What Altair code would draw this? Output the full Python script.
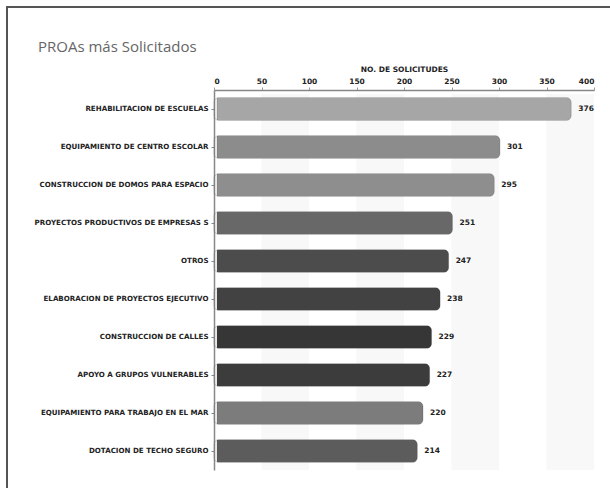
import altair as alt
import pandas as pd

categories = [
    "REHABILITACION DE ESCUELAS",
    "EQUIPAMIENTO DE CENTRO ESCOLAR",
    "CONSTRUCCION DE DOMOS PARA ESPACIO",
    "PROYECTOS PRODUCTIVOS DE EMPRESAS S",
    "OTROS",
    "ELABORACION DE PROYECTOS EJECUTIVO",
    "CONSTRUCCION DE CALLES",
    "APOYO A GRUPOS VULNERABLES",
    "EQUIPAMIENTO PARA TRABAJO EN EL MAR",
    "DOTACION DE TECHO SEGURO",
]
values = [376, 301, 295, 251, 247, 238, 229, 227, 220, 214]
bar_colors = ["#a6a6a6", "#8c8c8c", "#8e8e8e", "#686868", "#4c4c4c",
              "#424242", "#363636", "#3c3c3c", "#7c7c7c", "#5c5c5c"]
band_starts = [50, 150, 250, 350]
band_ends = [100, 200, 300, 400]
tick_values = list(range(0, 401, 25))
title_text = "PROAs más Solicitados"
x_title = "NO. DE SOLICITUDES"

df = pd.DataFrame({"cat": categories, "val": values, "col": bar_colors})
bands = pd.DataFrame({"b0": band_starts, "b1": band_ends})

FONT = "DejaVu Sans"

xscale = alt.Scale(domain=[0, 400], nice=False, zero=True)

band_layer = alt.Chart(bands).mark_rect(color="#f8f8f8").encode(
    x=alt.X("b0:Q", scale=xscale),
    x2="b1:Q",
    y=alt.value(4),
    y2=alt.value(380),
)

bars = alt.Chart(df).mark_bar(size=23, cornerRadius=5, stroke="#444", strokeWidth=0.4,
                              strokeOpacity=0.6, xOffset=3).encode(
    y=alt.Y("cat:N", sort=categories, title=None,
            axis=alt.Axis(labelFont=FONT, labelFontSize=7.1, labelFontWeight="bold",
                          labelColor="#222", labelPadding=3, tickSize=3,
                          domainColor="#888", tickColor="#888", domainWidth=1.5,
                          labelLimit=220)),
    x=alt.X("val:Q", scale=xscale, title=x_title,
            axis=alt.Axis(orient="top", values=tick_values, grid=False,
                          labelExpr="datum.value % 50 == 0 ? datum.label : ''",
                          labelFont=FONT, labelFontSize=7.5, labelFontWeight="bold",
                          labelColor="#222", labelPadding=2, tickSize=3,
                          domainColor="#888", tickColor="#999", domainWidth=1.5,
                          titleFont=FONT, titleFontSize=7.5, titleFontWeight="bold",
                          titleColor="#222", titlePadding=4)),
    color=alt.Color("col:N", scale=None),
)

labels = alt.Chart(df).mark_text(align="left", baseline="middle", dx=7,
                                 font=FONT, fontSize=7.5, fontWeight="bold",
                                 color="#222").encode(
    y=alt.Y("cat:N", sort=categories),
    x=alt.X("val:Q", scale=xscale),
    text="val:Q",
)

title_layer = alt.Chart(pd.DataFrame({"t": [title_text]})).mark_text(
    align="left", baseline="alphabetic", font="Open Sans", fontSize=15,
    color="#666"
).encode(x=alt.value(-176), y=alt.value(-38), text="t:N")

frame_top = alt.Chart(pd.DataFrame({"a": [0]})).mark_rect(color="#555").encode(
    x=alt.value(-208), x2=alt.value(396), y=alt.value(-84), y2=alt.value(-82))
frame_left = alt.Chart(pd.DataFrame({"a": [0]})).mark_rect(color="#555").encode(
    x=alt.value(-208), x2=alt.value(-206), y=alt.value(-84), y2=alt.value(398))

chart = alt.layer(band_layer, bars, labels, title_layer, frame_top, frame_left).properties(
    width=380, height=380,
    padding={"left": 214, "top": 90, "right": 16, "bottom": 18},
    autosize=alt.AutoSizeParams(type="none"),
).configure_view(stroke="transparent", strokeWidth=0)

chart.save("out.html", embed_options={"renderer": "svg", "actions": False})
